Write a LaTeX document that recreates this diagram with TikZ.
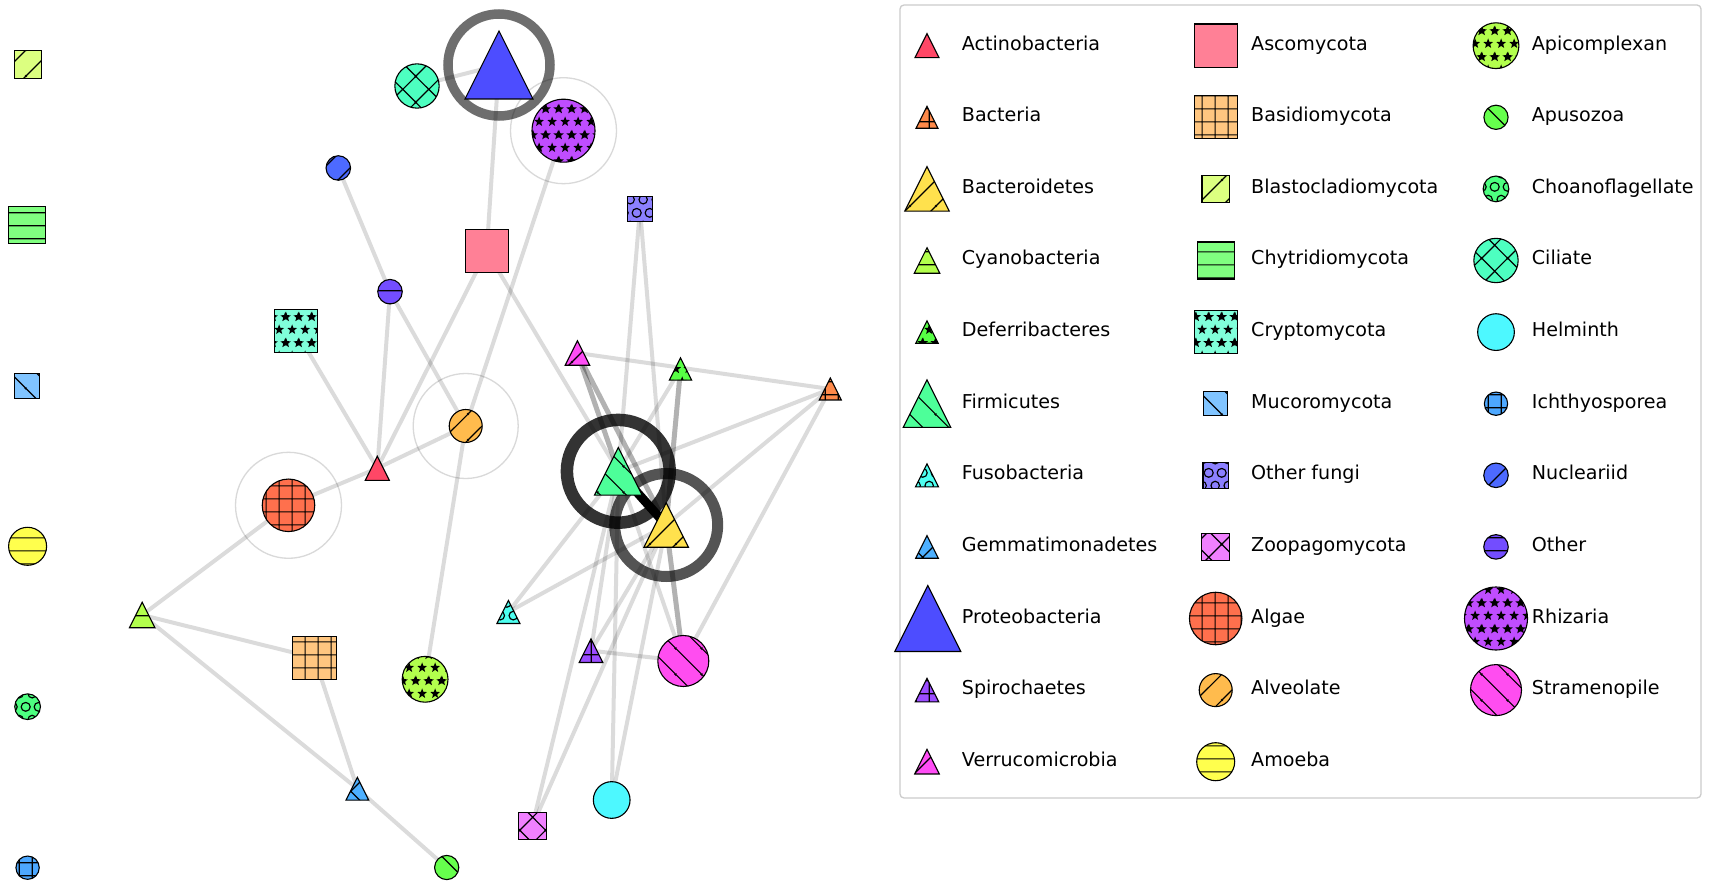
\documentclass[tikz,border=0pt]{standalone}
\usepackage{fontspec}
\setmainfont{DejaVu Sans}
\usetikzlibrary{patterns}
% colours
\definecolor{cAct}{HTML}{FF4766}
\definecolor{cBac}{HTML}{FF8A4A}
\definecolor{cBct}{HTML}{FFE14D}
\definecolor{cCya}{HTML}{B3FF4D}
\definecolor{cDef}{HTML}{57FF45}
\definecolor{cFir}{HTML}{4DFF99}
\definecolor{cFus}{HTML}{4DFFF0}
\definecolor{cGem}{HTML}{4DB0FF}
\definecolor{cPro}{HTML}{4D4DFF}
\definecolor{cSpi}{HTML}{9B4DFF}
\definecolor{cVer}{HTML}{FF4DF5}
\definecolor{cAsc}{HTML}{FF8096}
\definecolor{cBas}{HTML}{FFC680}
\definecolor{cBla}{HTML}{DCFF80}
\definecolor{cChy}{HTML}{80FF80}
\definecolor{cCry}{HTML}{80FFDA}
\definecolor{cMuc}{HTML}{80C4FF}
\definecolor{cOF}{HTML}{8C80FF}
\definecolor{cZoo}{HTML}{F080FF}
\definecolor{cAlg}{HTML}{FF704D}
\definecolor{cAlv}{HTML}{FFBB4D}
\definecolor{cAmo}{HTML}{FFFF4D}
\definecolor{cApi}{HTML}{B3FF4D}
\definecolor{cApu}{HTML}{66FF4D}
\definecolor{cCho}{HTML}{4DFF80}
\definecolor{cCil}{HTML}{4DFFC0}
\definecolor{cHel}{HTML}{4DF8FF}
\definecolor{cIch}{HTML}{4DA8FF}
\definecolor{cNuc}{HTML}{4D6AFF}
\definecolor{cOth}{HTML}{734DFF}
\definecolor{cRhi}{HTML}{C04DFF}
\definecolor{cStr}{HTML}{FF4DF0}
% hatch patterns (matplotlib-like)
\newcommand\mstarpath[2]{%
 \pgfpathmoveto{\pgfpointadd{\pgfqpoint{#1pt}{#2pt}}{\pgfpointpolar{90}{5.4pt}}}%
 \pgfpathlineto{\pgfpointadd{\pgfqpoint{#1pt}{#2pt}}{\pgfpointpolar{126}{2.3pt}}}%
 \pgfpathlineto{\pgfpointadd{\pgfqpoint{#1pt}{#2pt}}{\pgfpointpolar{162}{5.4pt}}}%
 \pgfpathlineto{\pgfpointadd{\pgfqpoint{#1pt}{#2pt}}{\pgfpointpolar{198}{2.3pt}}}%
 \pgfpathlineto{\pgfpointadd{\pgfqpoint{#1pt}{#2pt}}{\pgfpointpolar{234}{5.4pt}}}%
 \pgfpathlineto{\pgfpointadd{\pgfqpoint{#1pt}{#2pt}}{\pgfpointpolar{270}{2.3pt}}}%
 \pgfpathlineto{\pgfpointadd{\pgfqpoint{#1pt}{#2pt}}{\pgfpointpolar{306}{5.4pt}}}%
 \pgfpathlineto{\pgfpointadd{\pgfqpoint{#1pt}{#2pt}}{\pgfpointpolar{342}{2.3pt}}}%
 \pgfpathlineto{\pgfpointadd{\pgfqpoint{#1pt}{#2pt}}{\pgfpointpolar{18}{5.4pt}}}%
 \pgfpathlineto{\pgfpointadd{\pgfqpoint{#1pt}{#2pt}}{\pgfpointpolar{54}{2.3pt}}}%
 \pgfpathclose}
\pgfdeclarepatternformonly{mstars}{\pgfqpoint{0pt}{0pt}}{\pgfqpoint{13pt}{26pt}}{\pgfqpoint{13pt}{26pt}}{%
 \mstarpath{6.5}{6.5}\mstarpath{0}{19.5}\mstarpath{13}{19.5}\pgfusepath{fill}}
\pgfdeclarepatternformonly{mcircles}{\pgfqpoint{0pt}{0pt}}{\pgfqpoint{13pt}{26pt}}{\pgfqpoint{13pt}{26pt}}{%
 \pgfsetlinewidth{1.2pt}%
 \pgfpathcircle{\pgfqpoint{6.5pt}{6.5pt}}{4.4pt}%
 \pgfpathcircle{\pgfqpoint{0pt}{19.5pt}}{4.4pt}%
 \pgfpathcircle{\pgfqpoint{13pt}{19.5pt}}{4.4pt}%
 \pgfusepath{stroke}}
\pgfdeclarepatternformonly{mhor}{\pgfqpoint{0pt}{0pt}}{\pgfqpoint{13pt}{13pt}}{\pgfqpoint{13pt}{13pt}}{%
 \pgfsetlinewidth{1.2pt}%
 \pgfpathmoveto{\pgfqpoint{-1pt}{6.5pt}}\pgfpathlineto{\pgfqpoint{14pt}{6.5pt}}%
 \pgfusepath{stroke}}
\pgfdeclarepatternformonly{mplus}{\pgfqpoint{0pt}{0pt}}{\pgfqpoint{13pt}{13pt}}{\pgfqpoint{13pt}{13pt}}{%
 \pgfsetlinewidth{1.2pt}%
 \pgfpathmoveto{\pgfqpoint{-1pt}{6.5pt}}\pgfpathlineto{\pgfqpoint{14pt}{6.5pt}}%
 \pgfpathmoveto{\pgfqpoint{6.5pt}{-1pt}}\pgfpathlineto{\pgfqpoint{6.5pt}{14pt}}%
 \pgfusepath{stroke}}
\pgfdeclarepatternformonly{mslash}{\pgfqpoint{0pt}{0pt}}{\pgfqpoint{26pt}{26pt}}{\pgfqpoint{26pt}{26pt}}{%
 \pgfsetlinewidth{1.2pt}%
 \pgfpathmoveto{\pgfqpoint{-2pt}{-2pt}}\pgfpathlineto{\pgfqpoint{28pt}{28pt}}%
 \pgfpathmoveto{\pgfqpoint{-2pt}{24pt}}\pgfpathlineto{\pgfqpoint{2pt}{28pt}}%
 \pgfpathmoveto{\pgfqpoint{24pt}{-2pt}}\pgfpathlineto{\pgfqpoint{28pt}{2pt}}%
 \pgfusepath{stroke}}
\pgfdeclarepatternformonly{mback}{\pgfqpoint{0pt}{0pt}}{\pgfqpoint{26pt}{26pt}}{\pgfqpoint{26pt}{26pt}}{%
 \pgfsetlinewidth{1.2pt}%
 \pgfpathmoveto{\pgfqpoint{-2pt}{28pt}}\pgfpathlineto{\pgfqpoint{28pt}{-2pt}}%
 \pgfpathmoveto{\pgfqpoint{-2pt}{2pt}}\pgfpathlineto{\pgfqpoint{2pt}{-2pt}}%
 \pgfpathmoveto{\pgfqpoint{24pt}{28pt}}\pgfpathlineto{\pgfqpoint{28pt}{24pt}}%
 \pgfusepath{stroke}}
\pgfdeclarepatternformonly{mcross}{\pgfqpoint{0pt}{0pt}}{\pgfqpoint{26pt}{26pt}}{\pgfqpoint{26pt}{26pt}}{%
 \pgfsetlinewidth{1.2pt}%
 \pgfpathmoveto{\pgfqpoint{-2pt}{-2pt}}\pgfpathlineto{\pgfqpoint{28pt}{28pt}}%
 \pgfpathmoveto{\pgfqpoint{-2pt}{24pt}}\pgfpathlineto{\pgfqpoint{2pt}{28pt}}%
 \pgfpathmoveto{\pgfqpoint{24pt}{-2pt}}\pgfpathlineto{\pgfqpoint{28pt}{2pt}}%
 \pgfpathmoveto{\pgfqpoint{-2pt}{28pt}}\pgfpathlineto{\pgfqpoint{28pt}{-2pt}}%
 \pgfpathmoveto{\pgfqpoint{-2pt}{2pt}}\pgfpathlineto{\pgfqpoint{2pt}{-2pt}}%
 \pgfpathmoveto{\pgfqpoint{24pt}{28pt}}\pgfpathlineto{\pgfqpoint{28pt}{24pt}}%
 \pgfusepath{stroke}}
\tikzset{
 pnone/.style={},
 pplus/.style={pattern=mplus},
 pslash/.style={pattern=mslash},
 pdash/.style={pattern=mhor},
 pstar/.style={pattern=mstars},
 pback/.style={pattern=mback},
 pcirc/.style={pattern=mcircles},
 pcross/.style={pattern=mcross},
 lnk/.style={draw=black, draw opacity=0.14, line width=4pt},
 lnkD/.style={draw=black, draw opacity=0.3, line width=5pt},
 thinring/.style={draw=black!15, line width=1.3pt},
 lbl/.style={anchor=base west, inner sep=0pt, font=\fontsize{19.1}{22}\selectfont},
 mk/.style={draw=black, line width=1.1pt, line join=miter},
}
% markers: coordinate, size, colour, pattern
\newcommand\mtri[4]{\path[shift={(#1)}, preaction={fill=#3}, #4, mk] (-#2/2,#2/2) -- (0,-#2/2) -- (#2/2,#2/2) -- cycle;}
\newcommand\msq[4]{\path[shift={(#1)}, preaction={fill=#3}, #4, mk] (-#2/2,-#2/2) rectangle (#2/2,#2/2);}
\newcommand\mci[4]{\path[shift={(#1)}, preaction={fill=#3}, #4, mk] (0,0) circle[radius=#2/2];}

\begin{document}
\begin{tikzpicture}[x=1pt,y=-1pt]
\useasboundingbox[fill=white] (0,0) rectangle (1711,882);
% node positions
\coordinate (Bla) at (27.8,64.5);
\coordinate (Chy) at (27.4,225.3);
\coordinate (Muc) at (27,386);
\coordinate (Amo) at (27.6,546.3);
\coordinate (Cho) at (27.6,706.7);
\coordinate (Ich) at (27.6,867.7);
\coordinate (Cil) at (417,86);
\coordinate (Pro) at (499,65);
\coordinate (Rhi) at (563.5,130.7);
\coordinate (Nuc) at (338.3,168);
\coordinate (Asc) at (486.7,251.3);
\coordinate (Oth) at (390,291.7);
\coordinate (Cry) at (296,331);
\coordinate (Ver) at (577.4,353);
\coordinate (Alv) at (465.7,426);
\coordinate (Act) at (377.3,468.3);
\coordinate (Alg) at (288.5,505.3);
\coordinate (Cya) at (142.2,615);
\coordinate (Fus) at (508.4,612);
\coordinate (Bas) at (314.5,657.8);
\coordinate (Api) at (425.1,679.3);
\coordinate (Gem) at (357.4,788.7);
\coordinate (Zoo) at (532.2,826);
\coordinate (Apu) at (446.7,867.5);
\coordinate (OF) at (640,209);
\coordinate (Def) at (680.5,369);
\coordinate (Bac) at (830.3,389);
\coordinate (Fir) at (618.3,471.3);
\coordinate (Bct) at (666.2,525);
\coordinate (Spi) at (591,650.7);
\coordinate (Str) at (683.3,661);
\coordinate (Hel) at (611.7,800);
% thin rings
\draw[thinring] (Rhi) circle[radius=53];
\draw[thinring] (Alv) circle[radius=52.5];
\draw[thinring] (Alg) circle[radius=53];
% connectors
\draw[lnk] (Cil) -- (Pro);
\draw[lnk] (Pro) -- (Asc);
\draw[lnk] (Rhi) -- (Alv);
\draw[lnk] (Nuc) -- (Oth);
\draw[lnk] (Oth) -- (Act);
\draw[lnk] (Oth) -- (Alv);
\draw[lnk] (Asc) -- (Act);
\draw[lnk] (Asc) -- (Fir);
\draw[lnk] (Cry) -- (Act);
\draw[lnk] (Alv) -- (Act);
\draw[lnk] (Alv) -- (Api);
\draw[lnk] (Alg) -- (Act);
\draw[lnk] (Alg) -- (Cya);
\draw[lnk] (Cya) -- (Bas);
\draw[lnk] (Cya) -- (Gem);
\draw[lnk] (Bas) -- (Gem);
\draw[lnk] (Gem) -- (Apu);
\draw[lnk] (Fus) -- (Fir);
\draw[lnk] (Fus) -- (Bct);
\draw[lnk] (Zoo) -- (Fir);
\draw[lnk] (Zoo) -- (Bct);
\draw[lnk] (Spi) -- (Str);
\draw[lnk] (Spi) -- (Fir);
\draw[lnk] (Spi) -- (Bct);
\draw[lnk] (Hel) -- (Fir);
\draw[lnk] (Hel) -- (Bct);
\draw[lnk] (Str) -- (Fir);
\draw[lnk] (Str) -- (Bac);
\draw[lnk] (OF) -- (Fir);
\draw[lnk] (OF) -- (Bct);
\draw[lnk] (Ver) -- (Bac);
\draw[lnk] (Def) -- (Fir);
\draw[lnk] (Bac) -- (Fir);
\draw[lnk] (Bac) -- (Bct);
\draw[lnkD] (Ver) -- (Fir);
\draw[lnkD] (Ver) -- (Bct);
\draw[lnkD] (Def) -- (Bct);
\draw[lnkD] (Str) -- (Bct);
% highlight rings
\draw[draw=black, draw opacity=0.57, line width=9.5pt] (Pro) circle[radius=51];
\draw[draw=black, draw opacity=0.8, line width=12.5pt] (Fir) circle[radius=51.4];
\draw[draw=black, draw opacity=0.67, line width=11pt] (Bct) circle[radius=51.5];
\draw[draw=black, line width=9pt] (Fir) -- (Bct);
% markers
\msq{Bla}{27.5}{cBla}{pslash}
\msq{Chy}{37}{cChy}{pdash}
\msq{Muc}{24.3}{cMuc}{pback}
\mci{Amo}{38}{cAmo}{pdash}
\mci{Cho}{25.7}{cCho}{pcirc}
\mci{Ich}{23.3}{cIch}{pplus}
\mci{Cil}{44.3}{cCil}{pcross}
\mtri{Pro}{68}{cPro}{pnone}
\mci{Rhi}{63}{cRhi}{pstar}
\mci{Nuc}{24.5}{cNuc}{pslash}
\msq{Asc}{43.3}{cAsc}{pnone}
\mci{Oth}{24.5}{cOth}{pdash}
\msq{Cry}{43.3}{cCry}{pstar}
\mtri{Ver}{24.5}{cVer}{pslash}
\mci{Alv}{33}{cAlv}{pslash}
\mtri{Act}{24}{cAct}{pnone}
\mci{Alg}{52.5}{cAlg}{pplus}
\mtri{Cya}{25.5}{cCya}{pdash}
\mtri{Fus}{23}{cFus}{pcirc}
\msq{Bas}{43.3}{cBas}{pplus}
\mci{Api}{45.8}{cApi}{pstar}
\mtri{Gem}{22.7}{cGem}{pcross}
\msq{Zoo}{27.7}{cZoo}{pcross}
\mci{Apu}{24.2}{cApu}{pback}
\msq{OF}{25.5}{cOF}{pcirc}
\mtri{Def}{22.3}{cDef}{pstar}
\mtri{Bac}{22}{cBac}{pplus}
\mtri{Fir}{47.5}{cFir}{pback}
\mtri{Bct}{44.5}{cBct}{pslash}
\mtri{Spi}{23.5}{cSpi}{pplus}
\mci{Str}{51}{cStr}{pback}
\mci{Hel}{36.7}{cHel}{pnone}
% legend
\draw[draw=black!20, line width=1.3pt, fill=white, rounded corners=4pt] (900,5) rectangle (1701,798);
% column 1
\mtri{927,45.7}{24}{cAct}{pnone}       \node[lbl] (l1) at (961.7,50.2) {Actinobacteria};
\mtri{927,117.3}{22}{cBac}{pplus}      \node[lbl] (l2) at (961.7,121.8) {Bacteria};
\mtri{927,188.9}{44.5}{cBct}{pslash}   \node[lbl] (l3) at (961.7,193.4) {Bacteroidetes};
\mtri{927,260.5}{25.5}{cCya}{pdash}    \node[lbl] (l4) at (961.7,265.0) {Cyanobacteria};
\mtri{927,332.1}{22.3}{cDef}{pstar}    \node[lbl] (l5) at (961.7,336.6) {Deferribacteres};
\mtri{927,403.7}{47.5}{cFir}{pback}    \node[lbl] (l6) at (961.7,408.2) {Firmicutes};
\mtri{927,475.3}{23}{cFus}{pcirc}      \node[lbl] (l7) at (961.7,479.8) {Fusobacteria};
\mtri{927,546.9}{22.7}{cGem}{pcross}   \node[lbl] (l8) at (961.7,551.4) {Gemmatimonadetes};
\mtri{927.8,618.5}{66}{cPro}{pnone}    \node[lbl] (l9) at (961.7,623.0) {Proteobacteria};
\mtri{927,690.1}{23.5}{cSpi}{pplus}    \node[lbl] (l10) at (961.7,694.6) {Spirochaetes};
\mtri{927,761.7}{24.5}{cVer}{pslash}   \node[lbl] (l11) at (961.7,766.2) {Verrucomicrobia};
% column 2
\msq{1215.7,45.7}{43.3}{cAsc}{pnone}   \node[lbl] (m1) at (1251,50.2) {Ascomycota};
\msq{1215.7,117.3}{43.3}{cBas}{pplus}  \node[lbl] (m2) at (1251,121.8) {Basidiomycota};
\msq{1215.7,188.9}{27.5}{cBla}{pslash} \node[lbl] (m3) at (1251,193.4) {Blastocladiomycota};
\msq{1215.7,260.5}{37}{cChy}{pdash}    \node[lbl] (m4) at (1251,265.0) {Chytridiomycota};
\msq{1215.7,332.1}{43.3}{cCry}{pstar}  \node[lbl] (m5) at (1251,336.6) {Cryptomycota};
\msq{1215.7,403.7}{24.3}{cMuc}{pback}  \node[lbl] (m6) at (1251,408.2) {Mucoromycota};
\msq{1215.7,475.3}{25.5}{cOF}{pcirc}   \node[lbl] (m7) at (1251,479.8) {Other fungi};
\msq{1215.7,546.9}{27.7}{cZoo}{pcross} \node[lbl] (m8) at (1251,551.4) {Zoopagomycota};
\mci{1215.7,618.5}{52.5}{cAlg}{pplus}  \node[lbl] (m9) at (1251,623.0) {Algae};
\mci{1215.7,690.1}{33}{cAlv}{pslash}   \node[lbl] (m10) at (1251,694.6) {Alveolate};
\mci{1215.7,761.7}{38}{cAmo}{pdash}    \node[lbl] (m11) at (1251,766.2) {Amoeba};
% column 3
\mci{1496,45.7}{45.8}{cApi}{pstar}     \node[lbl] (r1) at (1531.7,50.2) {Apicomplexan};
\mci{1496,117.3}{24.2}{cApu}{pback}    \node[lbl] (r2) at (1531.7,121.8) {Apusozoa};
\mci{1496,188.9}{25.7}{cCho}{pcirc}    \node[lbl] (r3) at (1531.7,193.4) {Choanoflagellate};
\mci{1496,260.5}{44.3}{cCil}{pcross}   \node[lbl] (r4) at (1531.7,265.0) {Ciliate};
\mci{1496,332.1}{36.7}{cHel}{pnone}    \node[lbl] (r5) at (1531.7,336.6) {Helminth};
\mci{1496,403.7}{23.3}{cIch}{pplus}    \node[lbl] (r6) at (1531.7,408.2) {Ichthyosporea};
\mci{1496,475.3}{24.5}{cNuc}{pslash}   \node[lbl] (r7) at (1531.7,479.8) {Nucleariid};
\mci{1496,546.9}{24.5}{cOth}{pdash}    \node[lbl] (r8) at (1531.7,551.4) {Other};
\mci{1496,618.5}{63}{cRhi}{pstar}      \node[lbl] (r9) at (1531.7,623.0) {Rhizaria};
\mci{1496,690.1}{51}{cStr}{pback}      \node[lbl] (r10) at (1531.7,694.6) {Stramenopile};
\end{tikzpicture}
\end{document}
